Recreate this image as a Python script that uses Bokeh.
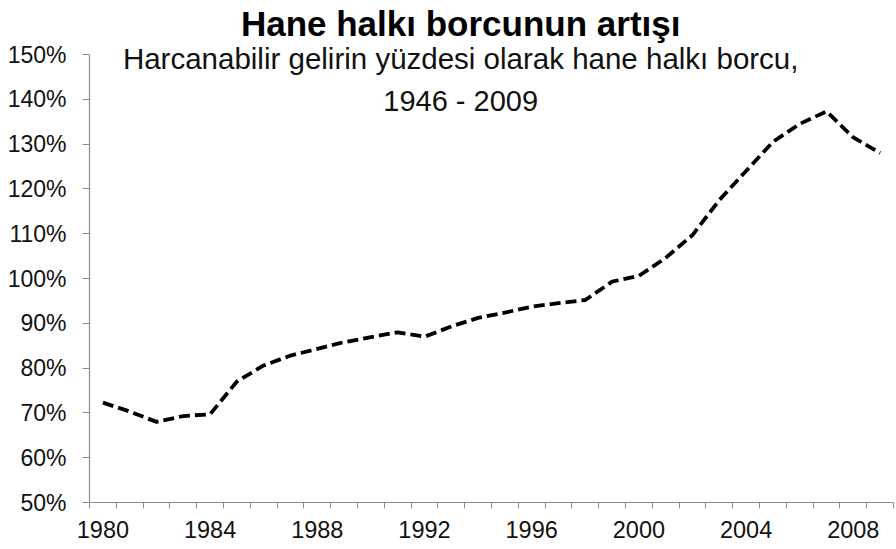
from bokeh.plotting import figure
from bokeh.models import Range1d, FixedTicker, PrintfTickFormatter, Label, ColumnDataSource
from bokeh.embed import file_html
from bokeh.resources import INLINE

years = list(range(1980, 2010))
debt_pct = [72.3, 70.3, 68.0, 69.3, 69.7, 77.0, 80.6, 82.8, 84.3, 85.8,
            86.9, 88.0, 87.0, 89.3, 91.2, 92.4, 93.7, 94.5, 95.2, 99.3,
            100.6, 104.6, 109.7, 117.5, 124.0, 130.5, 134.5, 137.3, 131.5, 128.0]
x_tick_years = [1980, 1984, 1988, 1992, 1996, 2000, 2004, 2008]
y_ticks = [50, 60, 70, 80, 90, 100, 110, 120, 130, 140, 150]
title_text = "Hane halkı borcunun artışı"
subtitle_line1 = "Harcanabilir gelirin yüzdesi olarak hane halkı borcu,"
subtitle_line2 = "1946 - 2009"

FONT = "Liberation Sans"

p = figure(width=896, height=549, output_backend="svg", toolbar_location=None,
           x_range=Range1d(1979.5, 2009.5), y_range=Range1d(50, 160.94),
           min_border_left=89, min_border_right=3, min_border_top=5, min_border_bottom=47)
p.outline_line_color = None
p.xgrid.visible = False
p.ygrid.visible = False
p.background_fill_color = "white"
p.border_fill_color = "white"

src = ColumnDataSource(dict(x=years, y=debt_pct))
p.line("x", "y", source=src, line_color="black", line_width=3.8, line_dash="11 5")

# x axis
xa = p.xaxis[0]
xa.ticker = FixedTicker(ticks=x_tick_years,
                        minor_ticks=[y - 0.5 for y in years] + [years[-1] + 0.5])
xa.major_tick_out = 0
xa.major_tick_in = 0
xa.minor_tick_out = 6
xa.minor_tick_in = 0
xa.minor_tick_line_color = "#8c8c8c"
xa.axis_line_color = "#8c8c8c"
xa.axis_line_width = 1.2
xa.major_label_text_font = FONT
xa.major_label_text_font_size = "23.5px"
xa.major_label_text_color = "#111111"
xa.major_label_standoff = 12

# y axis
ya = p.yaxis[0]
ya.ticker = FixedTicker(ticks=y_ticks, minor_ticks=[])
ya.bounds = (50, 150)
ya.formatter = PrintfTickFormatter(format="%d%%")
ya.major_tick_out = 7
ya.major_tick_in = 0
ya.minor_tick_out = 0
ya.major_tick_line_color = "#8c8c8c"
ya.axis_line_color = "#8c8c8c"
ya.axis_line_width = 1.2
ya.major_label_text_font = FONT
ya.major_label_text_font_size = "23px"
ya.major_label_text_color = "#111111"
ya.major_label_standoff = 16

center_x = 1993.35
p.add_layout(Label(x=center_x, y=156.9, text=title_text, text_font=FONT,
                   text_font_size="35px", text_font_style="bold",
                   text_align="center", text_baseline="alphabetic", text_color="black"))
p.add_layout(Label(x=center_x, y=149.0, text=subtitle_line1, text_font=FONT,
                   text_font_size="29.5px", text_align="center",
                   text_baseline="alphabetic", text_color="#111111"))
p.add_layout(Label(x=center_x, y=139.7, text=subtitle_line2, text_font=FONT,
                   text_font_size="29px", text_align="center",
                   text_baseline="alphabetic", text_color="#111111"))

open("out.html", "w").write(file_html(p, INLINE))
